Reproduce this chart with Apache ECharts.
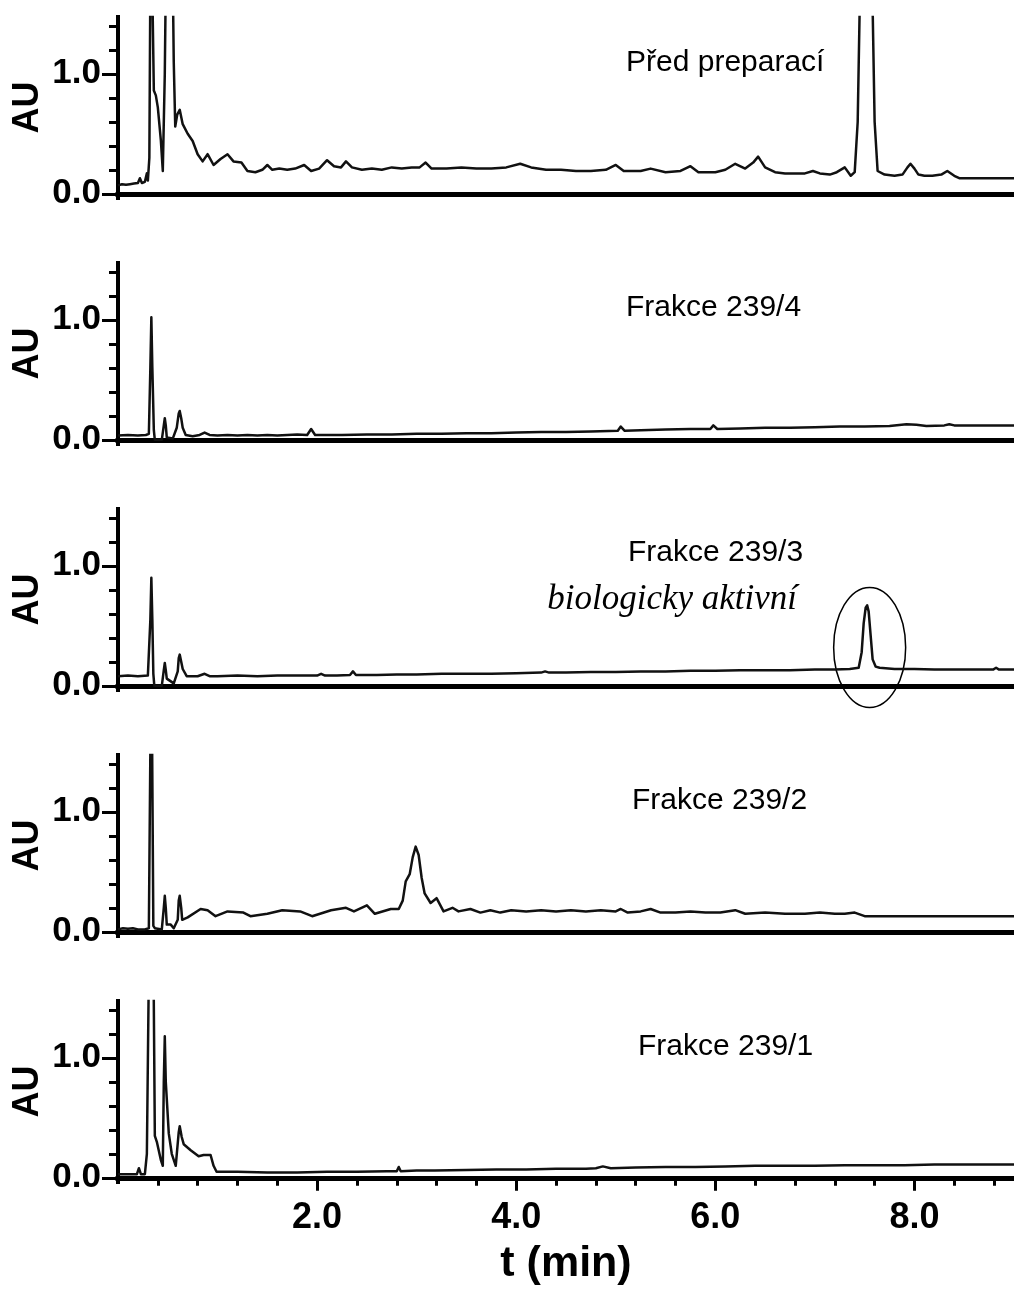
<!DOCTYPE html>
<html>
<head>
<meta charset="utf-8">
<script src="https://cdn.jsdelivr.net/npm/echarts@6/dist/echarts.min.js"></script>
<style>
html, body { margin: 0; padding: 0; background: #fff; }
#main { width: 1014px; height: 1293px; }
</style>
</head>
<body>
<div id="main"></div>
<script>
// panel captions, top to bottom
var panelTitles = ['Před preparací', 'Frakce 239/4', 'Frakce 239/3', 'Frakce 239/2', 'Frakce 239/1'];
var activeNote = 'biologicky aktivní';

// tick values
var timeTicks = [2, 4, 6, 8];
var auMajorTicks = [0, 1];
var auMinorTicks = [0.2, 0.4, 0.6, 0.8, 1.2, 1.4];

// chromatograms: [t (min), AU]
var beforePrep = [
    [0.00, 0.07], [0.04, 0.08], [0.08, 0.075], [0.12, 0.08], [0.16, 0.085], [0.20, 0.09], [0.22, 0.13], [0.24, 0.09],
    [0.27, 0.10], [0.29, 0.17], [0.30, 0.11], [0.315, 0.3], [0.33, 2.5], [0.345, 2.5], [0.36, 0.86], [0.38, 0.82],
    [0.40, 0.72], [0.43, 0.45], [0.45, 0.19], [0.47, 1.0], [0.49, 2.5], [0.54, 2.5], [0.56, 1.1], [0.575, 0.56],
    [0.595, 0.66], [0.62, 0.70], [0.65, 0.58], [0.70, 0.50], [0.75, 0.44], [0.80, 0.33], [0.85, 0.27], [0.90, 0.33],
    [0.96, 0.24], [1.03, 0.29], [1.10, 0.33], [1.16, 0.27], [1.24, 0.26], [1.30, 0.19], [1.38, 0.18], [1.45, 0.20],
    [1.50, 0.24], [1.55, 0.20], [1.62, 0.21], [1.70, 0.20], [1.78, 0.21], [1.87, 0.24], [1.94, 0.19], [2.02, 0.21],
    [2.10, 0.28], [2.17, 0.23], [2.24, 0.22], [2.29, 0.27], [2.35, 0.22], [2.45, 0.20], [2.55, 0.21], [2.65, 0.20],
    [2.75, 0.22], [2.85, 0.21], [2.95, 0.22], [3.03, 0.22], [3.09, 0.26], [3.15, 0.21], [3.30, 0.21], [3.45, 0.22],
    [3.60, 0.21], [3.75, 0.21], [3.90, 0.22], [4.04, 0.25], [4.15, 0.22], [4.30, 0.20], [4.45, 0.20], [4.60, 0.19],
    [4.75, 0.19], [4.90, 0.20], [5.00, 0.24], [5.08, 0.19], [5.25, 0.19], [5.35, 0.21], [5.50, 0.18], [5.65, 0.19],
    [5.75, 0.23], [5.83, 0.18], [6.00, 0.18], [6.10, 0.20], [6.20, 0.25], [6.30, 0.21], [6.38, 0.26], [6.43, 0.31],
    [6.50, 0.22], [6.60, 0.18], [6.70, 0.17], [6.80, 0.17], [6.90, 0.17], [6.98, 0.19], [7.05, 0.17], [7.15, 0.16],
    [7.22, 0.18], [7.30, 0.22], [7.36, 0.15], [7.40, 0.18], [7.43, 0.6], [7.47, 2.5], [7.56, 2.5], [7.60, 0.6],
    [7.63, 0.19], [7.70, 0.16], [7.80, 0.15], [7.88, 0.16], [7.93, 0.22], [7.96, 0.25], [8.00, 0.21], [8.04, 0.16],
    [8.10, 0.15], [8.18, 0.15], [8.27, 0.16], [8.33, 0.19], [8.40, 0.15], [8.45, 0.13], [8.60, 0.13], [8.80, 0.13],
    [9.00, 0.13]
];

var fraction4 = [
    [0.00, 0.035], [0.10, 0.04], [0.20, 0.035], [0.28, 0.04], [0.31, 0.05], [0.325, 0.6], [0.335, 1.02], [0.345, 0.6],
    [0.36, 0.08], [0.37, 0.0], [0.44, 0.0], [0.46, 0.12], [0.47, 0.18], [0.48, 0.12], [0.49, 0.02], [0.55, 0.01],
    [0.59, 0.10], [0.61, 0.22], [0.62, 0.24], [0.635, 0.18], [0.65, 0.10], [0.68, 0.04], [0.75, 0.03], [0.82, 0.04],
    [0.87, 0.06], [0.92, 0.04], [1.00, 0.035], [1.10, 0.04], [1.20, 0.035], [1.30, 0.04], [1.40, 0.035], [1.50, 0.04],
    [1.60, 0.035], [1.70, 0.04], [1.80, 0.045], [1.90, 0.04], [1.94, 0.09], [1.98, 0.04], [2.10, 0.04], [2.25, 0.04],
    [2.50, 0.045], [2.75, 0.045], [3.00, 0.05], [3.25, 0.05], [3.50, 0.055], [3.75, 0.055], [4.00, 0.06], [4.25, 0.065],
    [4.50, 0.065], [4.75, 0.07], [5.02, 0.075], [5.05, 0.11], [5.09, 0.075], [5.25, 0.08], [5.50, 0.085], [5.75, 0.09],
    [5.95, 0.09], [5.98, 0.12], [6.02, 0.09], [6.25, 0.095], [6.50, 0.10], [6.75, 0.10], [7.00, 0.105], [7.25, 0.11],
    [7.50, 0.11], [7.75, 0.115], [7.92, 0.13], [8.02, 0.125], [8.12, 0.115], [8.30, 0.12], [8.35, 0.13], [8.40, 0.12],
    [8.60, 0.12], [8.80, 0.12], [9.00, 0.12]
];

var fraction3 = [
    [0.00, 0.08], [0.10, 0.085], [0.20, 0.08], [0.30, 0.085], [0.315, 0.10], [0.325, 0.55], [0.335, 0.90], [0.345, 0.55],
    [0.355, 0.10], [0.365, 0.0], [0.44, 0.0], [0.46, 0.13], [0.47, 0.19], [0.48, 0.13], [0.49, 0.06], [0.56, 0.02],
    [0.60, 0.12], [0.61, 0.23], [0.62, 0.26], [0.635, 0.20], [0.65, 0.14], [0.69, 0.08], [0.80, 0.08], [0.87, 0.10],
    [0.92, 0.08], [1.00, 0.08], [1.20, 0.085], [1.40, 0.08], [1.60, 0.085], [1.80, 0.085], [2.00, 0.085], [2.04, 0.10],
    [2.08, 0.085], [2.20, 0.085], [2.33, 0.09], [2.36, 0.12], [2.39, 0.09], [2.60, 0.09], [2.80, 0.095], [3.00, 0.095],
    [3.25, 0.10], [3.50, 0.10], [3.75, 0.10], [4.00, 0.105], [4.25, 0.11], [4.29, 0.12], [4.33, 0.11], [4.50, 0.11],
    [4.75, 0.115], [5.00, 0.115], [5.25, 0.12], [5.50, 0.12], [5.75, 0.125], [6.00, 0.125], [6.25, 0.13], [6.50, 0.13],
    [6.75, 0.13], [7.00, 0.135], [7.20, 0.135], [7.35, 0.14], [7.44, 0.15], [7.47, 0.28], [7.49, 0.52], [7.51, 0.65],
    [7.525, 0.67], [7.54, 0.62], [7.56, 0.42], [7.58, 0.22], [7.61, 0.16], [7.65, 0.15], [7.80, 0.14], [8.00, 0.14],
    [8.20, 0.135], [8.40, 0.135], [8.60, 0.135], [8.79, 0.135], [8.82, 0.15], [8.85, 0.135], [9.00, 0.135]
];

var fraction2 = [
    [0.00, 0.02], [0.05, 0.03], [0.10, 0.025], [0.15, 0.03], [0.20, 0.02], [0.27, 0.02], [0.31, 0.03], [0.335, 2.5],
    [0.355, 0.05], [0.37, 0.03], [0.44, 0.02], [0.46, 0.2], [0.47, 0.30], [0.48, 0.2], [0.49, 0.06], [0.53, 0.06],
    [0.56, 0.03], [0.60, 0.10], [0.61, 0.26], [0.62, 0.30], [0.635, 0.2], [0.645, 0.10], [0.70, 0.12], [0.83, 0.19],
    [0.90, 0.18], [0.98, 0.13], [1.10, 0.17], [1.26, 0.16], [1.33, 0.13], [1.50, 0.15], [1.65, 0.18], [1.83, 0.17],
    [1.95, 0.13], [2.14, 0.18], [2.29, 0.20], [2.37, 0.17], [2.50, 0.22], [2.58, 0.15], [2.74, 0.19], [2.82, 0.19],
    [2.86, 0.26], [2.89, 0.42], [2.93, 0.48], [2.96, 0.62], [2.99, 0.71], [3.02, 0.64], [3.05, 0.45], [3.08, 0.32],
    [3.14, 0.24], [3.20, 0.28], [3.27, 0.17], [3.36, 0.20], [3.42, 0.17], [3.54, 0.19], [3.64, 0.16], [3.74, 0.18],
    [3.84, 0.16], [3.95, 0.18], [4.10, 0.17], [4.25, 0.18], [4.40, 0.17], [4.55, 0.18], [4.70, 0.17], [4.85, 0.18],
    [5.00, 0.17], [5.05, 0.19], [5.12, 0.16], [5.25, 0.17], [5.35, 0.19], [5.45, 0.16], [5.60, 0.16], [5.75, 0.17],
    [5.90, 0.16], [6.05, 0.16], [6.20, 0.18], [6.30, 0.15], [6.50, 0.16], [6.70, 0.15], [6.90, 0.15], [7.05, 0.16],
    [7.20, 0.15], [7.30, 0.15], [7.40, 0.16], [7.50, 0.13], [7.70, 0.13], [8.00, 0.13], [8.30, 0.13], [8.60, 0.13],
    [9.00, 0.13]
];

var fraction1 = [
    [0.00, 0.03], [0.05, 0.03], [0.10, 0.03], [0.15, 0.03], [0.19, 0.03], [0.21, 0.08], [0.23, 0.03], [0.27, 0.03],
    [0.29, 0.20], [0.32, 2.5], [0.35, 2.5], [0.37, 0.35], [0.39, 0.30], [0.43, 0.15], [0.45, 0.10], [0.46, 0.8],
    [0.47, 1.18], [0.48, 0.8], [0.51, 0.37], [0.54, 0.20], [0.58, 0.10], [0.61, 0.38], [0.62, 0.43], [0.64, 0.34],
    [0.66, 0.28], [0.73, 0.23], [0.81, 0.18], [0.86, 0.19], [0.93, 0.19], [0.96, 0.10], [0.99, 0.05], [1.20, 0.05],
    [1.50, 0.045], [1.80, 0.045], [2.10, 0.05], [2.40, 0.05], [2.70, 0.055], [2.80, 0.055], [2.82, 0.09], [2.84, 0.055],
    [3.00, 0.06], [3.14, 0.06], [3.16, 0.075], [3.18, 0.06], [3.50, 0.065], [3.80, 0.07], [4.10, 0.07], [4.40, 0.075],
    [4.70, 0.075], [4.80, 0.08], [4.87, 0.095], [4.95, 0.08], [5.20, 0.085], [5.50, 0.09], [5.80, 0.09], [6.10, 0.095],
    [6.40, 0.10], [6.70, 0.10], [7.00, 0.10], [7.30, 0.105], [7.60, 0.105], [7.90, 0.105], [8.20, 0.11], [8.50, 0.11],
    [8.80, 0.11], [9.00, 0.11]
];

var traces = [beforePrep, fraction4, fraction3, fraction2, fraction1];

var myChart = echarts.init(document.getElementById('main'));

var sansBold = "'Liberation Sans', Arial, sans-serif";
var black = '#000';

var grids = [];
var xAxes = [];
var yAxes = [];
var series = [];

traces.forEach(function (data, i) {
    var last = i === traces.length - 1;
    grids.push({ left: 118, right: 0, top: 17 + 246 * i, height: 181, outerBoundsMode: 'none' });

    // bottom axis (ticks + labels only on the last panel)
    xAxes.push({
        gridIndex: i, type: 'value', position: 'bottom', min: 0, max: 9, interval: 2,
        axisLine: { show: true, lineStyle: { color: black, width: 5, cap: 'square' } },
        axisTick: { show: last, customValues: timeTicks, length: 13, lineStyle: { color: black, width: 3 } },
        minorTick: { show: last, splitNumber: 5, length: 8, lineStyle: { color: black, width: 3 } },
        axisLabel: {
            show: last, customValues: timeTicks, margin: 18, color: black,
            fontFamily: sansBold, fontWeight: 'bold', fontSize: 36,
            formatter: function (v) { return v.toFixed(1); }
        },
        splitLine: { show: false },
        name: last ? 't (min)' : '', nameLocation: 'middle', nameGap: 61, nameMoveOverlap: false,
        nameTextStyle: { color: black, fontFamily: sansBold, fontWeight: 'bold', fontSize: 43 }
    });
    // top frame line
    xAxes.push({
        gridIndex: i, type: 'value', position: 'top', min: 0, max: 9,
        axisLine: { show: true, lineStyle: { color: black, width: 4, cap: 'square' } },
        axisTick: { show: false }, axisLabel: { show: false }, splitLine: { show: false }
    });

    // AU axis, major ticks
    yAxes.push({
        gridIndex: i, type: 'value', position: 'left', min: -0.035, max: 1.473,
        axisLine: { show: true, lineStyle: { color: black, width: 4, cap: 'square' } },
        axisTick: { show: true, customValues: auMajorTicks, length: 16, lineStyle: { color: black, width: 3 } },
        axisLabel: {
            customValues: auMajorTicks, margin: 17, color: black,
            fontFamily: sansBold, fontWeight: 'bold', fontSize: 35,
            formatter: function (v) { return v.toFixed(1); }
        },
        splitLine: { show: false },
        name: 'AU', nameLocation: 'middle', nameGap: 72, nameMoveOverlap: false,
        nameTextStyle: { color: black, fontFamily: sansBold, fontWeight: 'bold', fontSize: 36 }
    });
    // AU axis, minor ticks
    yAxes.push({
        gridIndex: i, type: 'value', position: 'left', min: -0.035, max: 1.473,
        axisLine: { show: false },
        axisTick: { show: true, customValues: auMinorTicks, length: 9, lineStyle: { color: black, width: 3 } },
        axisLabel: { show: false },
        splitLine: { show: false }
    });

    series.push({
        type: 'line', name: panelTitles[i], xAxisIndex: 2 * i, yAxisIndex: 2 * i,
        data: data, symbol: 'none', smooth: false,
        lineStyle: { color: '#111', width: 2.5, join: 'round' }
    });
});

var titleFont = "30px 'Liberation Sans', Arial, sans-serif";
var titlePos = [[626, 63], [626, 308], [628, 553], [632, 801], [638, 1047]];
var graphics = panelTitles.map(function (t, i) {
    return {
        type: 'text', x: titlePos[i][0], y: titlePos[i][1],
        style: { text: t, font: titleFont, fill: black, verticalAlign: 'middle' }
    };
});
graphics.push({
    type: 'text', x: 797, y: 600,
    style: { text: activeNote, font: "italic 35px 'Liberation Serif', 'Times New Roman', serif", fill: black, align: 'right', verticalAlign: 'middle' }
});

myChart.setOption({
    animation: false,
    backgroundColor: '#fff',
    grid: grids,
    xAxis: xAxes,
    yAxis: yAxes,
    series: series,
    graphic: graphics
});

// ring round the active peak in the Frakce 239/3 panel
var ringCenter = myChart.convertToPixel({ gridIndex: 2 }, [7.53, 0.32]);
graphics.push({
    type: 'ellipse',
    shape: { cx: ringCenter[0] + 2, cy: ringCenter[1], rx: 36, ry: 60 },
    style: { fill: 'none', stroke: black, lineWidth: 1.5 }
});
myChart.setOption({ graphic: graphics });
</script>
</body>
</html>
